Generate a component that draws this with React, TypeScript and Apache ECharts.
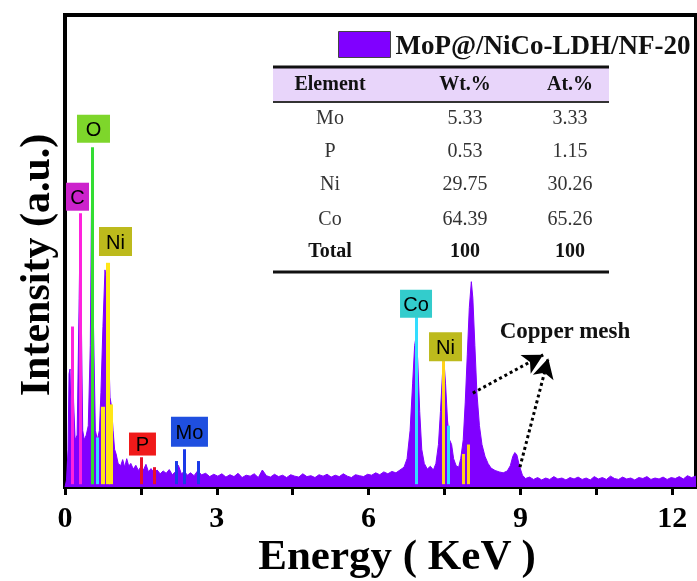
import React, { useEffect, useRef } from "react";
import * as echarts from "echarts";

// Spectrum (Energy in keV, intensity a.u.)
const energy = [
  0.0, 0.03, 0.06, 0.08, 0.1, 0.12, 0.15, 0.17, 0.2, 0.24, 0.28, 0.3, 0.32, 0.35, 0.38, 0.42, 0.46, 0.5, 0.53, 0.56,
  0.6, 0.64, 0.68, 0.71, 0.75, 0.79, 0.82, 0.86, 0.89, 0.92, 0.95, 0.98, 1.01, 1.05, 1.1, 1.14, 1.18, 1.22, 1.26, 1.3,
  1.35, 1.4, 1.45, 1.5, 1.55, 1.6, 1.65, 1.7, 1.76, 1.82, 1.88, 1.94, 2.0, 2.06, 2.12, 2.18, 2.24, 2.3, 2.36, 2.42,
  2.48, 2.55, 2.62, 2.7, 2.78, 2.86, 2.94, 3.02, 3.1, 3.18, 3.26, 3.34, 3.42, 3.5, 3.58, 3.66, 3.74, 3.82, 3.9, 3.98,
  4.06, 4.14, 4.22, 4.3, 4.38, 4.46, 4.54, 4.62, 4.7, 4.78, 4.86, 4.94, 5.02, 5.1, 5.18, 5.26, 5.34, 5.42, 5.5, 5.58,
  5.66, 5.74, 5.82, 5.9, 5.98, 6.06, 6.14, 6.22, 6.3, 6.38, 6.46, 6.54, 6.62, 6.7, 6.76, 6.82, 6.87, 6.91, 6.94, 6.97,
  7.01, 7.05, 7.1, 7.16, 7.22, 7.28, 7.33, 7.38, 7.42, 7.46, 7.49, 7.52, 7.56, 7.6, 7.64, 7.68, 7.73, 7.78, 7.82, 7.87,
  7.91, 7.95, 7.99, 8.03, 8.06, 8.1, 8.14, 8.19, 8.24, 8.3, 8.36, 8.42, 8.5, 8.58, 8.66, 8.74, 8.8, 8.85, 8.89, 8.93,
  8.98, 9.04, 9.1, 9.18, 9.26, 9.34, 9.42, 9.5, 9.58, 9.66, 9.74, 9.82, 9.9, 9.98, 10.06, 10.14, 10.22, 10.3, 10.38, 10.46,
  10.54, 10.62, 10.7, 10.78, 10.86, 10.94, 11.02, 11.1, 11.18, 11.26, 11.34, 11.42, 11.5, 11.58, 11.66, 11.74, 11.82, 11.9, 11.98, 12.06,
  12.14, 12.22, 12.3, 12.38, 12.47,
];
const counts = [
  0, 1.5, 8, 24, 25, 14, 30, 18, 10, 11, 40, 56, 38, 12, 10, 11, 13, 30, 68, 36,
  12, 10, 12, 20, 34, 46, 44, 30, 19, 17, 12, 8, 7, 5, 4.5, 5.8, 4.2, 6.0, 4.4, 5.0,
  3.8, 4.6, 3.5, 4.3, 3.6, 4.8, 3.2, 3.9, 3.0, 3.6, 2.8, 3.4, 2.9, 3.7, 2.6, 3.2, 4.6, 2.8, 3.3, 2.5,
  3.0, 2.4, 3.4, 2.6, 2.9, 2.2, 2.7, 2.3, 2.8, 2.1, 2.6, 2.2, 2.9, 2.0, 2.5, 2.3, 2.8, 2.0, 3.6, 2.4,
  2.1, 2.7, 2.2, 2.5, 2.0, 2.6, 2.3, 2.1, 2.8, 2.2, 2.4, 2.0, 2.6, 2.3, 2.7, 2.1, 2.5, 2.2, 2.8, 2.3,
  2.0, 2.6, 2.4, 2.2, 2.7, 2.5, 3.0, 2.6, 3.2, 2.8, 3.3, 3.0, 3.6, 4.2, 6, 12, 22, 30, 32, 27,
  16, 8, 5, 3.8, 4.4, 3.6, 5, 9, 16, 24, 26.5, 22, 14, 10, 9, 6, 4.5, 4.2, 6, 10,
  18, 28, 38, 43.5, 40, 30, 20, 13, 9, 6.5, 5, 4, 3.5, 3.2, 3.0, 3.4, 4.5, 6.5, 7.3, 6.8,
  4.5, 2.5, 1.8, 2.1, 1.6, 2.0, 1.5, 1.9, 1.6, 2.2, 1.7, 1.9, 1.5, 2.0, 1.7, 2.1, 1.6, 1.9, 1.5, 2.2,
  1.7, 2.0, 1.6, 2.3, 1.8, 1.6, 2.1, 1.7, 1.9, 1.5, 2.0, 1.8, 2.2, 1.6, 1.9, 1.7, 2.1, 1.6, 2.0, 1.8,
  2.2, 1.7, 2.4, 2.0, 2.3,
];

// Element marker lines: [energy, top intensity]
const linesC = [[0.15, 34], [0.3, 58]];
const linesO = [[0.54, 72]];
const linesCoL = [[0.63, 10.5]];
const linesNiL = [[0.75, 17], [0.84, 47.5], [0.9, 17.5]];
const linesP = [[1.5, 6.3], [1.76, 4.2]];
const linesMo = [[2.19, 5.5], [2.35, 8], [2.64, 5.5]];
const linesCoK = [[6.95, 36], [7.58, 13]];
const linesNiK = [[7.47, 27], [7.87, 7], [7.97, 9]];

// Element tags: name and anchor (energy, intensity)
const tagNames = ["C", "O", "Ni", "P", "Mo", "Co", "Ni"];
const tagEnergy = [0.247, 0.563, 0.998, 1.531, 2.46, 6.937, 7.52];
const tagIntensity = [61.5, 75.9, 52.0, 9.1, 11.7, 38.8, 29.7];

// Copper mesh arrows: [start, tip]
const arrowCu = [
  [[8.06, 19.9], [9.45, 28.0]],
  [[8.99, 4.2], [9.55, 27.3]],
];

// Table
const tableHeader = ["Element", "Wt.%", "At.%"];
const tableElements = ["Mo", "P", "Ni", "Co", "Total"];
const tableWt = ["5.33", "0.53", "29.75", "64.39", "100"];
const tableAt = ["3.33", "1.15", "30.26", "65.26", "100"];

const seriesName = "MoP@/NiCo-LDH/NF-20";

const PURPLE = "#8000FF";
const SERIF = "'Liberation Serif', 'Times New Roman', serif";
const SANS = "'Liberation Sans', Arial, sans-serif";

const tagStyle: Record<string, { color: string; w: number; h: number }> = {
  C: { color: "#CC22CC", w: 23, h: 28 },
  O: { color: "#7ED62B", w: 33, h: 28 },
  Ni: { color: "#BDBA1C", w: 33, h: 29 },
  P: { color: "#F01A1A", w: 27, h: 23 },
  Mo: { color: "#1F4FE0", w: 37, h: 30 },
  Co: { color: "#33CCCC", w: 32, h: 28 },
};

function lineSeries(name: string, pts: number[][], color: string, width: number) {
  return {
    name,
    type: "line",
    data: [],
    z: 3,
    silent: true,
    markLine: {
      silent: true,
      symbol: ["none", "none"],
      animation: false,
      label: { show: false },
      lineStyle: { color, width, type: "solid", opacity: 1 },
      emphasis: { disabled: true },
      data: pts.map((p) => [{ coord: [p[0], 0.6] }, { coord: [p[0], p[1]] }]),
    },
  };
}

export default function App() {
  const ref = useRef<HTMLDivElement>(null);

  useEffect(() => {
    if (!ref.current) return;
    const chart = echarts.init(ref.current, undefined, { renderer: "svg" });

    const spectrum = energy.map((e, i) => [e, counts[i]]);

    const tags = tagNames.map((n, i) => {
      const s = tagStyle[n];
      return {
        value: [tagEnergy[i], tagIntensity[i]],
        symbolSize: [s.w, s.h],
        itemStyle: { color: s.color, opacity: 1 },
        label: { formatter: n },
      };
    });

    // table graphics
    const tx0 = 273, tx1 = 609;
    const colX = [330, 465, 570];
    const rowY = [117, 150, 183, 218, 250];
    const tableG: any[] = [
      { type: "rect", shape: { x: tx0, y: 67, width: tx1 - tx0, height: 35 }, style: { fill: "#E8D5FA" } },
      { type: "line", shape: { x1: tx0, y1: 67, x2: tx1, y2: 67 }, style: { stroke: "#111", lineWidth: 3 } },
      { type: "line", shape: { x1: tx0, y1: 102, x2: tx1, y2: 102 }, style: { stroke: "#333", lineWidth: 2 } },
      { type: "line", shape: { x1: tx0, y1: 272, x2: tx1, y2: 272 }, style: { stroke: "#111", lineWidth: 3 } },
    ];
    tableHeader.forEach((h, j) => {
      tableG.push({
        type: "text",
        x: colX[j],
        y: 83,
        style: { text: h, fontFamily: SERIF, fontWeight: "bold", fontSize: 20, fill: "#111", align: "center", verticalAlign: "middle" },
      });
    });
    tableElements.forEach((el, i) => {
      const bold = el === "Total";
      [el, tableWt[i], tableAt[i]].forEach((t, j) => {
        tableG.push({
          type: "text",
          x: colX[j],
          y: rowY[i],
          style: {
            text: t,
            fontFamily: SERIF,
            fontWeight: bold ? "bold" : "normal",
            fontSize: 20,
            fill: bold ? "#111" : "#333",
            align: "center",
            verticalAlign: "middle",
          },
        });
      });
    });

    const option: any = {
      animation: false,
      grid: { left: 65, right: 1, top: 15, bottom: 94, show: true, borderColor: "#000", borderWidth: 4, backgroundColor: "transparent" },
      legend: {
        show: true,
        left: 333,
        top: 26,
        itemWidth: 52,
        itemHeight: 26,
        itemGap: 7,
        selectedMode: false,
        data: [{ name: seriesName, icon: "rect", itemStyle: { color: PURPLE, borderColor: "#444", borderWidth: 1 } }],
        textStyle: { fontFamily: SERIF, fontWeight: "bold", fontSize: 27, color: "#111" },
      },
      xAxis: {
        type: "value",
        min: 0,
        max: 12.47,
        interval: 1.5,
        axisLine: { show: true, lineStyle: { color: "#000", width: 4 } },
        axisTick: { show: true, inside: false, length: 8, lineStyle: { color: "#000", width: 3 } },
        axisLabel: {
          show: true,
          margin: 14,
          showMaxLabel: false,
          formatter: (v: number) => (Math.abs(v % 3) < 1e-6 ? String(v) : ""),
          fontFamily: SERIF,
          fontWeight: "bold",
          fontSize: 30,
          color: "#000",
        },
        splitLine: { show: false },
      },
      yAxis: {
        type: "value",
        min: 0,
        max: 100,
        axisLine: { show: true, lineStyle: { color: "#000", width: 4 } },
        axisTick: { show: false },
        axisLabel: { show: false },
        splitLine: { show: false },
      },
      series: [
        {
          name: seriesName,
          type: "line",
          data: spectrum,
          z: 2,
          showSymbol: false,
          symbol: "none",
          lineStyle: { color: PURPLE, width: 1 },
          itemStyle: { color: PURPLE },
          areaStyle: { color: PURPLE, opacity: 1 },
          silent: true,
        },
        lineSeries("C lines", linesC, "#FF22DD", 3),
        lineSeries("O lines", linesO, "#33DD33", 3),
        lineSeries("Co L lines", linesCoL, "#33DDFF", 3),
        lineSeries("Ni L lines", linesNiL, "#FFE617", 4),
        lineSeries("P lines", linesP, "#E8102A", 3),
        lineSeries("Mo lines", linesMo, "#1A3AE8", 3),
        lineSeries("Co K lines", linesCoK, "#33DDFF", 3),
        lineSeries("Ni K lines", linesNiK, "#FFD21A", 3),
        {
          name: "tags",
          type: "scatter",
          symbol: "rect",
          z: 5,
          silent: true,
          itemStyle: { opacity: 1 },
          data: tags,
          label: { show: true, position: "inside", fontFamily: SANS, fontSize: 20, color: "#000" },
        },
        {
          name: "arrows",
          type: "line",
          data: [],
          z: 4,
          silent: true,
          markLine: {
            silent: true,
            symbol: ["none", "arrow"],
            symbolSize: [16, 20],
            label: { show: false },
            lineStyle: { color: "#000", width: 3, type: [3, 3], opacity: 1 },
            emphasis: { disabled: true },
            data: arrowCu.map((a) => [{ coord: a[0] }, { coord: a[1] }]),
          },
        },
      ],
      graphic: [
        ...tableG,
        {
          type: "text",
          x: 565,
          y: 330,
          style: { text: "Copper mesh", fontFamily: SERIF, fontWeight: "bold", fontSize: 23, fill: "#111", align: "center", verticalAlign: "middle" },
        },
        {
          type: "text",
          x: 35,
          y: 265,
          rotation: Math.PI / 2,
          style: { text: "Intensity (a.u.)", fontFamily: SERIF, fontWeight: "bold", fontSize: 42, fill: "#000", align: "center", verticalAlign: "middle" },
        },
        {
          type: "text",
          x: 397,
          y: 554,
          style: { text: "Energy ( KeV )", fontFamily: SERIF, fontWeight: "bold", fontSize: 43, fill: "#000", align: "center", verticalAlign: "middle" },
        },
      ],
    };

    chart.setOption(option);
    return () => chart.dispose();
  }, []);

  return <div ref={ref} style={{ position: "fixed", left: 0, top: 0, width: 697, height: 581 }} />;
}
